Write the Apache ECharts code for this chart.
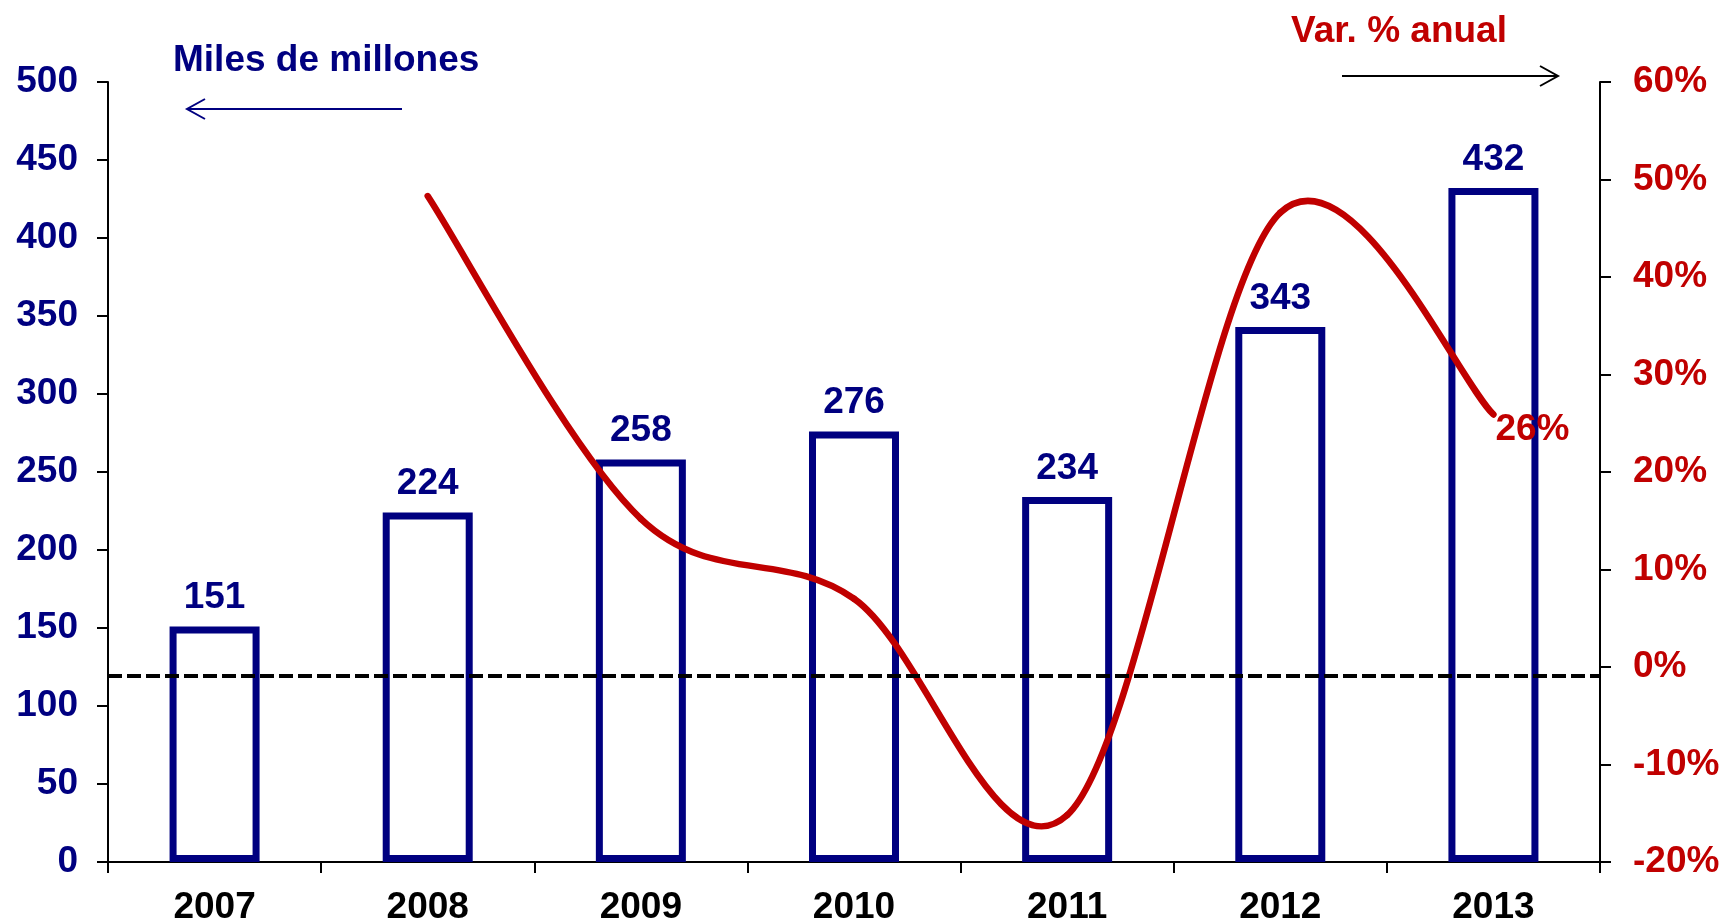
<!DOCTYPE html>
<html>
<head>
<meta charset="utf-8">
<script src="https://cdn.jsdelivr.net/npm/echarts@6/dist/echarts.min.js"></script>
<style>
    html,body{margin:0;padding:0;background:#fff;}
    #chart{width:1721px;height:923px;}
</style>
</head>
<body>
<div id="chart"></div>
<script>
var years = ['2007', '2008', '2009', '2010', '2011', '2012', '2013'];
var miles = [151, 224, 258, 276, 234, 343, 432];
var variacion = [null, 48.3, 15.2, 7.0, -15.2, 46.6, 25.9];
var ceroLinea = -0.9;   // la linea punteada queda un poco bajo el 0%

var azul = '#000080';
var rojo = '#C00000';
var fuente = 'Liberation Sans, Arial, sans-serif';

var chart = echarts.init(document.getElementById('chart'));

// curva suavizada tipo Excel (Catmull-Rom), un tramo por punto
function punto(api, i) {
    return api.coord([i, variacion[i]]);
}
function tramoCurva(params, api) {
    var i = params.dataIndex;
    if (i === 0 || variacion[i] == null || variacion[i - 1] == null) {
        return null;
    }
    var p1 = punto(api, i - 1);
    var p2 = punto(api, i);
    var p0 = (i - 2 >= 0 && variacion[i - 2] != null) ? punto(api, i - 2) : p1;
    var p3 = (i + 1 < variacion.length && variacion[i + 1] != null) ? punto(api, i + 1) : p2;
    var hijos = [{
        type: 'bezierCurve',
        shape: {
            x1: p1[0], y1: p1[1],
            x2: p2[0], y2: p2[1],
            cpx1: p1[0] + (p2[0] - p0[0]) / 6,
            cpy1: p1[1] + (p2[1] - p0[1]) / 6,
            cpx2: p2[0] - (p3[0] - p1[0]) / 6,
            cpy2: p2[1] - (p3[1] - p1[1]) / 6
        },
        style: {stroke: rojo, lineWidth: 6.5, fill: null, lineCap: 'round'}
    }];
    if (i === variacion.length - 1) {
        hijos.push({
            type: 'text',
            x: p2[0] + 2,
            y: p2[1] + 15,
            style: {
                text: Math.round(variacion[i]) + '%',
                fill: rojo,
                font: 'bold 37px ' + fuente,
                align: 'left',
                verticalAlign: 'middle'
            }
        });
    }
    return {type: 'group', children: hijos};
}

var option = {
    animation: false,
    grid: {
        left: 108,
        right: 121,
        top: 82,
        bottom: 61,
        containLabel: false,
        outerBoundsMode: 'none'
    },
    xAxis: {
        type: 'category',
        data: years,
        axisLine: {lineStyle: {color: '#000', width: 2}},
        axisTick: {show: true, length: 11, lineStyle: {color: '#000', width: 2}},
        axisLabel: {
            color: '#000',
            fontSize: 37,
            fontWeight: 'bold',
            fontFamily: fuente,
            margin: 27
        }
    },
    yAxis: [
        {
            type: 'value',
            min: 0,
            max: 500,
            interval: 50,
            splitLine: {show: false},
            axisLine: {show: true, lineStyle: {color: '#000', width: 2}},
            axisTick: {show: true, length: 11, lineStyle: {color: '#000', width: 2}},
            axisLabel: {
                color: azul,
                fontSize: 37,
                fontWeight: 'bold',
                fontFamily: fuente,
                padding: [9, 0, 0, 0],
                margin: 30
            }
        },
        {
            type: 'value',
            min: -20,
            max: 60,
            interval: 10,
            splitLine: {show: false},
            axisLine: {show: true, lineStyle: {color: '#000', width: 2}},
            axisTick: {show: true, length: 11, lineStyle: {color: '#000', width: 2}},
            axisLabel: {
                formatter: '{value}%',
                color: rojo,
                fontSize: 37,
                fontWeight: 'bold',
                fontFamily: fuente,
                padding: [9, 0, 0, 0],
                margin: 33
            }
        }
    ],
    series: [
        {
            name: 'Miles de millones',
            type: 'bar',
            yAxisIndex: 0,
            barWidth: 90,
            data: miles,
            itemStyle: {
                color: '#fff',
                borderColor: azul,
                borderWidth: 7
            },
            label: {
                show: true,
                position: 'top',
                distance: 10,
                color: azul,
                fontSize: 37,
                fontWeight: 'bold',
                fontFamily: fuente
            },
            z: 2
        },
        {
            name: 'cero',
            type: 'line',
            yAxisIndex: 1,
            data: [],
            markLine: {
                silent: true,
                symbol: 'none',
                label: {show: false},
                lineStyle: {color: '#000', width: 4, type: [14, 5]},
                data: [{yAxis: ceroLinea}]
            },
            z: 3
        },
        {
            name: 'Var. % anual',
            type: 'custom',
            yAxisIndex: 1,
            renderItem: tramoCurva,
            encode: {x: 0, y: 1},
            data: variacion.map(function (v, i) { return [i, v == null ? 0 : v]; }),
            z: 4
        }
    ],
    graphic: [
        {
            type: 'text',
            left: 173,
            top: 42,
            style: {
                text: 'Miles de millones',
                fill: azul,
                font: 'bold 37px ' + fuente
            }
        },
        {
            type: 'line',
            shape: {x1: 402, y1: 109, x2: 187, y2: 109},
            style: {stroke: azul, lineWidth: 2}
        },
        {
            type: 'polyline',
            shape: {points: [[205, 99], [187, 109], [205, 119]]},
            style: {stroke: azul, lineWidth: 2, fill: null}
        },
        {
            type: 'text',
            left: 1291,
            top: 13,
            style: {
                text: 'Var. % anual',
                fill: rojo,
                font: 'bold 37px ' + fuente
            }
        },
        {
            type: 'line',
            shape: {x1: 1342, y1: 76, x2: 1558, y2: 76},
            style: {stroke: '#000', lineWidth: 2}
        },
        {
            type: 'polyline',
            shape: {points: [[1540, 66], [1558, 76], [1540, 86]]},
            style: {stroke: '#000', lineWidth: 2, fill: null}
        }
    ]
};

chart.setOption(option);
</script>
</body>
</html>
